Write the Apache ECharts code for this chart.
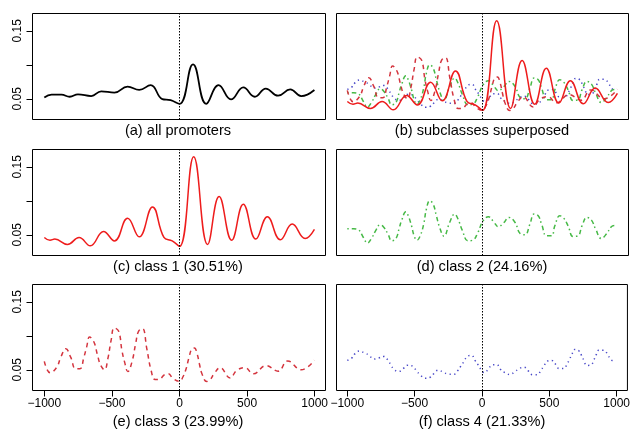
<!DOCTYPE html>
<html>
<head>
<meta charset="utf-8">
<script src="https://cdn.jsdelivr.net/npm/echarts@6/dist/echarts.min.js"></script>
<style>html,body{margin:0;padding:0;background:#fff}#c{width:633px;height:431px}</style>
</head>
<body>
<div id="c"></div>
<script>
// ---- data (position relative to TSS, bp ; value) ----
const posAll = [-1000,-946,-873,-812,-751,-653,-579,-482,-384,-298,-213,-127,-66,0,100,198,289,381,472,557,638,729,819,900,998];
const valAll = [0.052,0.056,0.056,0.053,0.0565,0.054,0.061,0.059,0.068,0.063,0.070,0.0495,0.048,0.0426,0.1007,0.0426,0.070,0.049,0.0667,0.053,0.065,0.0545,0.0638,0.054,0.063];

const posC1 = [-1000,-958,-922,-829,-743,-660,-562,-482,-384,-298,-200,-115,-54,0,105,208,293,386,472,565,650,746,834,929,998];
const valC1 = [0.046,0.042,0.0436,0.0358,0.046,0.0338,0.0549,0.041,0.0745,0.047,0.091,0.046,0.041,0.033,0.1647,0.0358,0.1064,0.042,0.095,0.0436,0.0765,0.0426,0.0657,0.0446,0.058];

const posC2 = [-1000,-954,-918,-881,-851,-820,-788,-758,-729,-697,-672,-640,-616,-599,-567,-549,-525,-505,-485,-459,-434,-415,-390,-365,-341,-317,-285,-243,-206,-181,-150,-108,-71,-34,3,44,81,118,155,196,241,278,314,351,381,412,437,474,511,535,572,597,633,670,707,736,773,806,837,879,916,953,975];
const valC2 = [0.0588,0.0588,0.0574,0.046,0.0378,0.0451,0.0569,0.0647,0.0608,0.05,0.0412,0.0446,0.0598,0.0706,0.0838,0.078,0.0632,0.048,0.042,0.0495,0.0667,0.0878,0.1,0.0951,0.0779,0.0608,0.048,0.0681,0.0804,0.0731,0.0569,0.0412,0.0422,0.0534,0.07,0.0765,0.0696,0.0618,0.0672,0.0755,0.0681,0.0519,0.05,0.0657,0.0804,0.0779,0.0657,0.0485,0.0485,0.0632,0.0779,0.0755,0.0632,0.0475,0.0485,0.0632,0.0755,0.0716,0.0584,0.0446,0.051,0.0618,0.0635];

const posC3 = [-1000,-956,-908,-878,-841,-805,-768,-736,-707,-687,-665,-633,-609,-585,-555,-530,-506,-482,-450,-426,-406,-382,-352,-323,-303,-274,-242,-210,-181,-156,-108,-83,-46,0,24,49,68,93,110,130,147,166,202,227,256,300,375,423,484,546,640,729,800,900,998];
const valC3 = [0.0623,0.0456,0.0538,0.0686,0.0811,0.0686,0.0515,0.0515,0.0686,0.0834,0.0982,0.0908,0.0737,0.0574,0.05,0.0663,0.0933,0.1115,0.1066,0.0786,0.0613,0.0475,0.0613,0.0899,0.1066,0.1106,0.0811,0.049,0.0356,0.0356,0.043,0.044,0.0367,0.033,0.039,0.0515,0.0663,0.0811,0.082,0.0737,0.0589,0.0441,0.0327,0.0356,0.0441,0.053,0.038,0.049,0.053,0.044,0.056,0.048,0.063,0.050,0.064];

const posC4 = [-1000,-967,-942,-910,-871,-837,-807,-768,-731,-697,-677,-652,-618,-584,-549,-513,-486,-459,-424,-385,-356,-324,-287,-250,-208,-179,-157,-132,-110,-78,-52,-27,-4,18,47,77,110,138,172,209,243,278,312,346,376,412,437,462,484,518,548,572,609,631,651,668,690,719,739,759,776,808,830,847,867,904,933,955,985];
const valC4 = [0.0638,0.0672,0.0737,0.0775,0.0746,0.0712,0.0657,0.0672,0.0697,0.0638,0.0574,0.0504,0.0475,0.0519,0.0568,0.0549,0.0485,0.0426,0.0376,0.039,0.0445,0.0494,0.0464,0.0435,0.0435,0.049,0.0553,0.0627,0.0697,0.0712,0.0638,0.0568,0.0495,0.0456,0.0509,0.0574,0.0574,0.0504,0.0456,0.043,0.047,0.0519,0.0538,0.048,0.0426,0.0426,0.049,0.0564,0.0627,0.0638,0.0578,0.0519,0.0519,0.0583,0.0657,0.0731,0.08,0.0781,0.0712,0.0627,0.0564,0.0568,0.0642,0.0716,0.0786,0.0786,0.0726,0.0652,0.0623];

const xTicks = [-1000,-500,0,500,1000];
const yTicks = [0.05,0.10,0.15];
const yLabels = [0.05,0.15];
const panelTitles = ['(a) all promoters','(b) subclasses superposed','(c) class 1 (30.51%)','(d) class 2 (24.16%)','(e) class 3 (23.99%)','(f) class 4 (21.33%)'];

// ---- layout ----
const FONT = '"Liberation Sans", Arial, Helvetica, sans-serif';
const colLeft = [32.5, 336.5], colWidth = [293, 292];
const colXMin = [-1087.4, -1080], colXMax = [1080, 1080];
const rowTop = [13.5, 149.5, 284.5], rowH = 106;
const titleY = [130.5, 266.5, 422];
const titleX = [178, 482];

function pairs(p, v) { return p.map((x, i) => [x, v[i]]); }

const styles = {
  all: {color:'#000000', width:1.8, type:'solid'},
  c1:  {color:'#ee1c1c', width:1.5, type:'solid'},
  c2:  {color:'#46b946', width:1.5, type:[1.5,3,4.5,3]},
  c3:  {color:'#d4343e', width:1.5, type:[4.5,4]},
  c4:  {color:'#4848c8', width:1.5, type:[1.3,3.4]}
};

const grids = [], xAxes = [], yAxes = [], series = [], graphics = [];
for (let i = 0; i < 6; i++) {
  const col = i % 2, row = Math.floor(i / 2);
  grids.push({left: colLeft[col], top: rowTop[row], width: colWidth[col], height: rowH,
    show: true, borderColor: '#000', borderWidth: 1, backgroundColor: 'transparent', containLabel: false});
  const bottomRow = row === 2;
  xAxes.push({type:'value', gridIndex:i, min:colXMin[col], max:colXMax[col], position:'bottom',
    axisLine:{show:false, onZero:false}, splitLine:{show:false},
    axisTick:{show:bottomRow, customValues:xTicks, length:6, lineStyle:{color:'#000', width:1}},
    axisLabel:{show:bottomRow, customValues:xTicks, margin:7, fontSize:12, fontFamily:FONT, color:'#000',
      formatter: v => String(v).replace('-', '\u2212')}});
  const leftCol = col === 0;
  yAxes.push({type:'value', gridIndex:i, min:0.0195, max:0.1755, position:'left',
    axisLine:{show:false, onZero:false}, splitLine:{show:false},
    axisTick:{show:leftCol, customValues:yTicks, length:6, lineStyle:{color:'#000', width:1}},
    axisLabel:{show:leftCol, customValues:yLabels, rotate:90, margin:9, fontSize:12, fontFamily:FONT, color:'#000',
      formatter: v => v.toFixed(2)}});
  graphics.push({type:'text', x:titleX[col], y:titleY[row], silent:true,
    style:{text:panelTitles[i], fill:'#000', fontSize:14.6, fontFamily:FONT, align:'center', verticalAlign:'middle'}});
}

function addLine(gi, p, v, st, withMark) {
  const s = {type:'line', xAxisIndex:gi, yAxisIndex:gi, data:pairs(p, v), smooth:0.45,
    showSymbol:false, symbol:'none', silent:true, lineStyle:st, z:3};
  if (withMark) {
    s.markLine = {silent:true, symbol:['none','none'], label:{show:false},
      lineStyle:{type:[1.5,1.5], color:'#000', width:1}, data:[{xAxis:0}], animation:false};
  }
  series.push(s);
}

addLine(0, posAll, valAll, styles.all, true);
addLine(1, posC4, valC4, styles.c4, true);
addLine(1, posC2, valC2, styles.c2, false);
addLine(1, posC3, valC3, styles.c3, false);
addLine(1, posC1, valC1, styles.c1, false);
addLine(2, posC1, valC1, styles.c1, true);
addLine(3, posC2, valC2, styles.c2, true);
addLine(4, posC3, valC3, styles.c3, true);
addLine(5, posC4, valC4, styles.c4, true);

const chart = echarts.init(document.getElementById('c'), null, {renderer:'canvas'});
chart.setOption({animation:false, backgroundColor:'#fff', grid:grids, xAxis:xAxes, yAxis:yAxes, series:series, graphic:graphics});
</script>
</body>
</html>
